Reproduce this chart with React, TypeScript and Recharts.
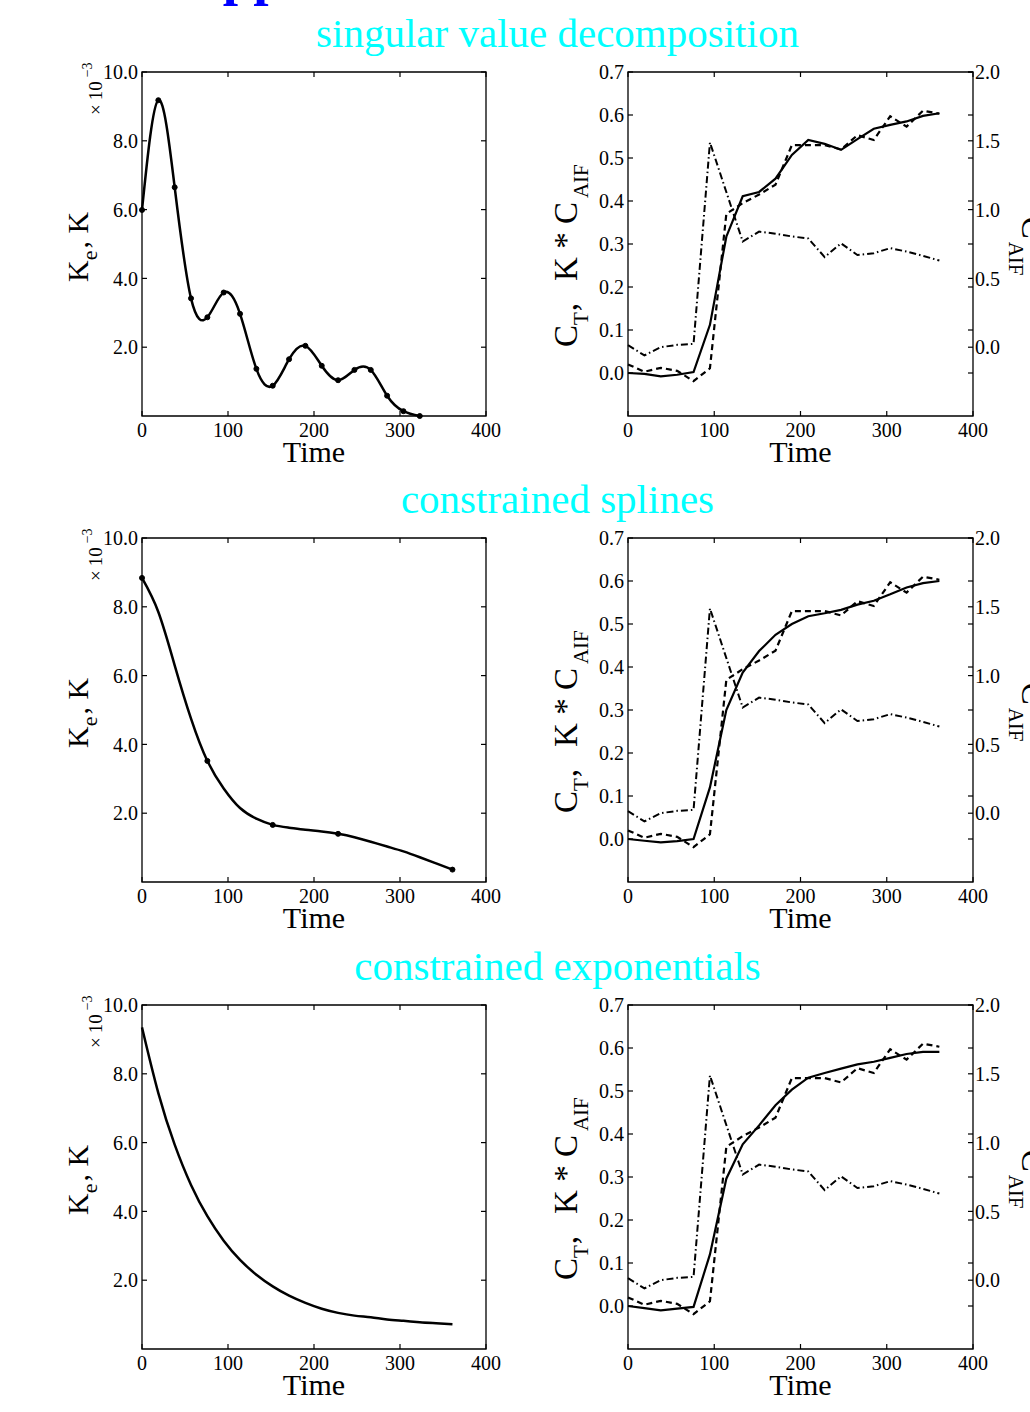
import React from 'react';
import { LineChart, Line, XAxis, YAxis, ReferenceArea } from 'recharts';

const FONT = '"Liberation Serif", "Times New Roman", serif';

// sample times (s)
const time = [0, 19, 38, 57, 76, 95, 114, 133, 152, 171, 190, 209, 228, 247, 266, 285, 304, 323, 342, 361];
const xTicks = [0, 100, 200, 300, 400];
const kTicks = [2, 4, 6, 8, 10];
const ctTicks = [0, 0.1, 0.2, 0.3, 0.4, 0.5, 0.6, 0.7];
const aifTicks = [0, 0.5, 1, 1.5, 2];

const panelTitles = ['singular value decomposition', 'constrained splines', 'constrained exponentials'];

// measured tissue curve (dashed) and arterial input (dash-dot, right axis)
const ctData = [0.02, 0.003, 0.012, 0.005, -0.019, 0.011, 0.37, 0.395, 0.415, 0.438, 0.53, 0.53, 0.53, 0.52, 0.553, 0.542, 0.597, 0.573, 0.61, 0.603];
const cAif = [0.015, -0.06, 0.0, 0.017, 0.024, 1.488, 1.128, 0.768, 0.84, 0.825, 0.805, 0.79, 0.655, 0.755, 0.67, 0.683, 0.72, 0.695, 0.664, 0.63];

// fitted K * C_AIF (solid)
const svdFit = [0.0, -0.002, -0.008, -0.004, 0.002, 0.112, 0.317, 0.411, 0.421, 0.452, 0.507, 0.542, 0.533, 0.519, 0.544, 0.568, 0.577, 0.585, 0.598, 0.604];
const splineFit = [0.0, -0.004, -0.008, -0.005, 0.0, 0.12, 0.3, 0.387, 0.437, 0.475, 0.5, 0.518, 0.525, 0.533, 0.545, 0.554, 0.569, 0.585, 0.595, 0.6];
const expFit = [0.0, -0.005, -0.01, -0.006, -0.002, 0.12, 0.296, 0.376, 0.42, 0.467, 0.503, 0.531, 0.542, 0.552, 0.562, 0.568, 0.577, 0.586, 0.591, 0.591];

// kernels K (x 10^-3)
const svdK = [5.99, 9.18, 6.65, 3.42, 2.87, 3.59, 2.97, 1.37, 0.88, 1.65, 2.04, 1.46, 1.04, 1.34, 1.34, 0.59, 0.14, 0.0];
const splineK = [8.84, 7.85, 6.3, 4.75, 3.52, 2.72, 2.15, 1.84, 1.66, 1.58, 1.52, 1.47, 1.4, 1.3, 1.17, 1.03, 0.89, 0.72, 0.54, 0.36];
const splineKnots = [0, 76, 152, 228, 361];
const expK = [9.35, 7.44, 5.94, 4.77, 3.86, 3.15, 2.59, 2.16, 1.82, 1.55, 1.34, 1.17, 1.05, 0.97, 0.92, 0.86, 0.82, 0.78, 0.75, 0.72];

const rowTops = [72, 538, 1005];
const PH = 344;
const PW_L = 344;
const PW_R = 345;

const svdRows = svdK.map((k, i) => ({ t: time[i], k, dot: k }));
const splineRows = splineK.map((k, i) => ({ t: time[i], k, dot: splineKnots.includes(time[i]) ? k : null }));
const expRows = expK.map((k, i) => ({ t: time[i], k, dot: null }));

const fitRows = (fit: number[]) => time.map((t, i) => ({ t, ct: ctData[i], aif: cAif[i], fit: fit[i] }));

const tickStyle = { fontFamily: FONT, fontSize: 20, fill: '#000' };
const labelStyle = { fontFamily: FONT, fill: '#000', style: { whiteSpace: 'pre' as const } };

const makeXTick = (plotH: number) => (props: any) => {
  const { x, y, payload } = props;
  const base = y - 7;
  return (
    <g>
      <line x1={x} y1={base} x2={x} y2={base - 5} stroke="#000" strokeWidth={1.2} />
      <line x1={x} y1={base - plotH} x2={x} y2={base - plotH + 5} stroke="#000" strokeWidth={1.2} />
      <text x={x} y={y} dy="0.71em" textAnchor="middle" {...tickStyle}>{payload.value}</text>
    </g>
  );
};

const makeYTickLeft = (plotW: number) => (props: any) => {
  const { x, y, payload } = props;
  const ax = x + 4;
  return (
    <g>
      <line x1={ax} y1={y} x2={ax + 5} y2={y} stroke="#000" strokeWidth={1.2} />
      <line x1={ax + plotW} y1={y} x2={ax + plotW - 5} y2={y} stroke="#000" strokeWidth={1.2} />
      <text x={x} y={y} dy="0.355em" textAnchor="end" {...tickStyle}>{payload.value.toFixed(1)}</text>
    </g>
  );
};

const yTickRight = (props: any) => {
  const { x, y, payload } = props;
  const ax = x - 2;
  return (
    <g>
      <line x1={ax} y1={y} x2={ax - 5} y2={y} stroke="#000" strokeWidth={1.2} />
      <text x={x} y={y} dy="0.355em" textAnchor="start" {...tickStyle}>{payload.value.toFixed(1)}</text>
    </g>
  );
};

const timeLabel = (props: any) => {
  const { x, y, width } = props.viewBox;
  return (
    <text x={x + width / 2} y={y + 46} textAnchor="middle" fontSize={30} {...labelStyle}>Time</text>
  );
};

const kLabel = (props: any) => {
  const { x, y } = props.viewBox;
  const bx = x + 26;
  const by = y + 210;
  const mx = x + 39.7;
  const my = y + 43;
  return (
    <g>
      <text x={bx} y={by} transform={`rotate(-90, ${bx}, ${by})`} textAnchor="start" fontSize={30} {...labelStyle}>
        K<tspan dy={9} fontSize={22}>e</tspan><tspan dy={-9} dx={2}>, K</tspan>
      </text>
      <text x={mx} y={my} transform={`rotate(-90, ${mx}, ${my})`} textAnchor="start" fontSize={19} {...labelStyle}>
        ×<tspan dx={4}>10</tspan><tspan dy={-10} dx={4} fontSize={14}>−3</tspan>
      </text>
    </g>
  );
};

const ctLabel = (props: any) => {
  const { x, y } = props.viewBox;
  const bx = x + 29;
  const by = y + 275;
  return (
    <text x={bx} y={by} transform={`rotate(-90, ${bx}, ${by})`} textAnchor="start" fontSize={33} {...labelStyle}>
      C<tspan dy={11} fontSize={21}>T</tspan><tspan dy={-11} dx={1}>,</tspan><tspan dx={22}>K * C</tspan><tspan dy={11} dx={4} fontSize={21}>AIF</tspan>
    </text>
  );
};

const aifLabel = (props: any) => {
  const { x, y } = props.viewBox;
  const bx = x + 48.7;
  const by = y + 144.7;
  return (
    <text x={bx} y={by} transform={`rotate(90, ${bx}, ${by})`} textAnchor="start" fontSize={33} {...labelStyle}>
      C<tspan dy={13} dx={3} fontSize={21}>AIF</tspan>
    </text>
  );
};

function KernelPanel({ top, rows }: { top: number; rows: any[] }) {
  return (
    <div style={{ position: 'absolute', left: 52, top: top - 20 }}>
      <LineChart width={454} height={424} data={rows} margin={{ top: 20, right: 20, bottom: 0, left: 10 }}>
        <XAxis dataKey="t" type="number" domain={[0, 400]} ticks={xTicks} interval={0} height={60}
          axisLine={false} tickLine={false} tickSize={0} tickMargin={7} tick={makeXTick(PH)} label={{ content: timeLabel }} />
        <YAxis type="number" domain={[0, 10]} ticks={kTicks} interval={0} width={80}
          axisLine={false} tickLine={false} tickSize={0} tickMargin={4} tick={makeYTickLeft(PW_L)} label={{ content: kLabel }} />
        <Line type="natural" dataKey="k" stroke="#000" strokeWidth={2.5} dot={false} isAnimationActive={false} />
        <Line type="linear" dataKey="dot" stroke="none" dot={{ r: 2.5, fill: '#000', stroke: '#000', strokeWidth: 1 }} isAnimationActive={false} />
        <ReferenceArea x1={0} x2={400} y1={0} y2={10} fill="none" stroke="#000" strokeWidth={1.3} ifOverflow="visible" />
      </LineChart>
    </div>
  );
}

function FitPanel({ top, rows }: { top: number; rows: any[] }) {
  return (
    <div style={{ position: 'absolute', left: 538, top: top - 20 }}>
      <LineChart width={505} height={424} data={rows} margin={{ top: 20, right: 20, bottom: 0, left: 10 }}>
        <XAxis dataKey="t" type="number" domain={[0, 400]} ticks={xTicks} interval={0} height={60}
          axisLine={false} tickLine={false} tickSize={0} tickMargin={7} tick={makeXTick(PH)} label={{ content: timeLabel }} />
        <YAxis yAxisId="left" type="number" domain={[-0.1, 0.7]} ticks={ctTicks} interval={0} width={80}
          axisLine={false} tickLine={false} tickSize={0} tickMargin={4} tick={makeYTickLeft(PW_R)} label={{ content: ctLabel }} />
        <YAxis yAxisId="right" orientation="right" type="number" domain={[-0.5, 2]} ticks={aifTicks} interval={0} width={50}
          axisLine={false} tickLine={false} tickSize={0} tickMargin={2} tick={yTickRight} label={{ content: aifLabel }} />
        <Line yAxisId="right" type="linear" dataKey="aif" stroke="#000" strokeWidth={2} strokeDasharray="7 3 1.5 3" dot={false} isAnimationActive={false} />
        <Line yAxisId="left" type="linear" dataKey="ct" stroke="#000" strokeWidth={2.2} strokeDasharray="6 4" dot={false} isAnimationActive={false} />
        <Line yAxisId="left" type="linear" dataKey="fit" stroke="#000" strokeWidth={2.2} dot={false} isAnimationActive={false} />
        <ReferenceArea yAxisId="left" x1={0} x2={400} y1={-0.1} y2={0.7} fill="none" stroke="#000" strokeWidth={1.3} ifOverflow="visible" />
      </LineChart>
    </div>
  );
}

export default function App() {
  const kernels = [svdRows, splineRows, expRows];
  const fits = [fitRows(svdFit), fitRows(splineFit), fitRows(expFit)];
  return (
    <div style={{ position: 'absolute', left: 0, top: 0, width: 1030, height: 1412, overflow: 'hidden', background: '#fff' }}>
      <svg width={1030} height={1412} style={{ position: 'absolute', left: 0, top: 0 }}>
        <text x={183} y={-6} fontFamily={FONT} fontWeight="bold" fontSize={55} fill="#0000ff">Approximations</text>
        {panelTitles.map((title, i) => (
          <text key={title} x={557.5} y={rowTops[i] - 25} textAnchor="middle" fontFamily={FONT} fontSize={41} fill="#00ffff">{title}</text>
        ))}
      </svg>
      {rowTops.map((top, i) => (
        <React.Fragment key={top}>
          <KernelPanel top={top} rows={kernels[i]} />
          <FitPanel top={top} rows={fits[i]} />
        </React.Fragment>
      ))}
    </div>
  );
}
